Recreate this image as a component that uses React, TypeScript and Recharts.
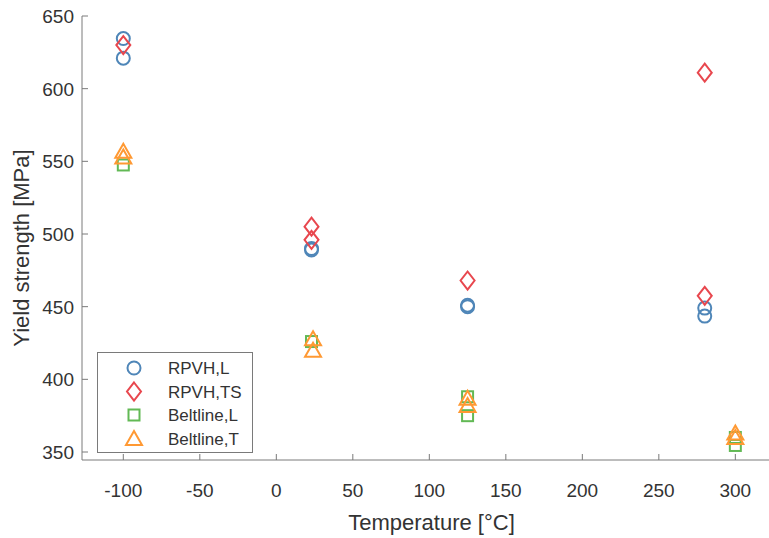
import React from 'react';
import { ScatterChart, Scatter, XAxis, YAxis, Legend } from 'recharts';

// Test temperatures [°C] and measured yield strengths [MPa]
const rpvhLTemp = [-100, -100, 23, 23, 125, 125, 280, 280];
const rpvhLYield = [634.5, 621, 490, 489, 451, 450, 449, 443.5];

const rpvhTSTemp = [-100, 23, 23, 125, 280, 280];
const rpvhTSYield = [630, 505, 496, 468, 611, 457.5];

const beltLTemp = [-100, 23, 125, 125, 300, 300];
const beltLYield = [547.5, 426, 388, 375, 360, 354.5];

const beltTTemp = [-100, -100, 24, 24, 125, 125, 300, 300];
const beltTYield = [557, 553, 428, 420, 387, 382, 363, 360];

const xTicks = [-100, -50, 0, 50, 100, 150, 200, 250, 300];
const yTicks = [350, 400, 450, 500, 550, 600, 650];

const zip = (t: number[], v: number[]) => t.map((x, i) => ({ t: x, v: v[i] }));

const BLUE = '#4f86b8';
const RED = '#e8474e';
const GREEN = '#62b955';
const ORANGE = '#ff9933';
const SW = 2;

const FONT = '"Liberation Sans", Arial, sans-serif';
const AXIS = '#7a7a7a';
const TEXT = '#333333';

type MarkerKind = 'circle' | 'diamond' | 'square' | 'triangle';

const Marker = ({ kind, cx, cy, color }: { kind: MarkerKind; cx: number; cy: number; color: string }) => {
  const common = { fill: 'none', stroke: color, strokeWidth: SW };
  if (kind === 'circle') return <circle cx={cx} cy={cy} r={6.5} {...common} />;
  if (kind === 'diamond')
    return <path d={`M${cx},${cy - 9} L${cx + 7},${cy} L${cx},${cy + 9} L${cx - 7},${cy} Z`} {...common} />;
  if (kind === 'square') return <rect x={cx - 5.5} y={cy - 5.5} width={11} height={11} {...common} />;
  return <path d={`M${cx},${cy - 7.5} L${cx + 8},${cy + 6.5} L${cx - 8},${cy + 6.5} Z`} {...common} />;
};

const shapeOf = (kind: MarkerKind, color: string) => (p: any) =>
  <Marker kind={kind} cx={p.cx} cy={p.cy} color={color} />;

const XTick = (p: any) => (
  <g>
    <line x1={p.x} x2={p.x} y1={p.y} y2={p.y - 6} stroke={AXIS} strokeWidth={1} />
    <text x={p.x} y={p.y + 37} textAnchor="middle" fontSize={19} fontFamily={FONT} fill={TEXT}>
      {p.payload.value}
    </text>
  </g>
);

const YTick = (p: any) => (
  <g>
    <line x1={p.x} x2={p.x + 6} y1={p.y} y2={p.y} stroke={AXIS} strokeWidth={1} />
    <text x={p.x - 8} y={p.y + 7} textAnchor="end" fontSize={19} fontFamily={FONT} fill={TEXT}>
      {p.payload.value}
    </text>
  </g>
);

const legendItems: { name: string; kind: MarkerKind; color: string }[] = [
  { name: 'RPVH,L', kind: 'circle', color: BLUE },
  { name: 'RPVH,TS', kind: 'diamond', color: RED },
  { name: 'Beltline,L', kind: 'square', color: GREEN },
  { name: 'Beltline,T', kind: 'triangle', color: ORANGE },
];

const LegendBox = () => (
  <svg width={156} height={101} style={{ display: 'block' }}>
    <rect x={0.5} y={0.5} width={155} height={100} fill="#fff" stroke={AXIS} strokeWidth={1} />
    {legendItems.map((it, i) => (
      <g key={it.name}>
        <Marker kind={it.kind} cx={37} cy={16 + i * 23.5} color={it.color} />
        <text x={71} y={16 + i * 23.5 + 6} fontSize={17} fontFamily={FONT} fill={TEXT}>
          {it.name}
        </text>
      </g>
    ))}
  </svg>
);

export default function App() {
  return (
    <div style={{ position: 'absolute', left: 0, top: 0, width: 769, height: 538, background: '#fff' }}>
      <ScatterChart width={769} height={538} margin={{ top: 16, right: 0, bottom: 0, left: 0 }}>
        <XAxis
          type="number"
          dataKey="t"
          domain={[-127, 322]}
          ticks={xTicks}
          allowDataOverflow
          height={78}
          stroke={AXIS}
          tickLine={false}
          tickSize={0}
          tickMargin={0}
          tick={XTick}
          label={{
            value: 'Temperature [°C]',
            position: 'insideBottom',
            offset: 8,
            dx: 6,
            fontSize: 22,
            fontFamily: FONT,
            fill: TEXT,
          }}
        />
        <YAxis
          type="number"
          dataKey="v"
          domain={[344.5, 650]}
          ticks={yTicks}
          allowDataOverflow
          width={82}
          stroke={AXIS}
          tickLine={false}
          tickSize={0}
          tickMargin={0}
          tick={YTick}
          label={{
            value: 'Yield strength [MPa]',
            angle: -90,
            position: 'insideLeft',
            dx: 16,
            dy: 10,
            fontSize: 22,
            fontFamily: FONT,
            fill: TEXT,
            style: { textAnchor: 'middle' },
          }}
        />
        <Legend
          layout="vertical"
          align="center"
          verticalAlign="middle"
          content={LegendBox}
          wrapperStyle={{ position: 'absolute', left: 97, top: 352, width: 156, height: 101 }}
        />
        <Scatter name="RPVH,L" data={zip(rpvhLTemp, rpvhLYield)} shape={shapeOf('circle', BLUE)} isAnimationActive={false} />
        <Scatter name="RPVH,TS" data={zip(rpvhTSTemp, rpvhTSYield)} shape={shapeOf('diamond', RED)} isAnimationActive={false} />
        <Scatter name="Beltline,L" data={zip(beltLTemp, beltLYield)} shape={shapeOf('square', GREEN)} isAnimationActive={false} />
        <Scatter name="Beltline,T" data={zip(beltTTemp, beltTYield)} shape={shapeOf('triangle', ORANGE)} isAnimationActive={false} />
      </ScatterChart>
    </div>
  );
}
